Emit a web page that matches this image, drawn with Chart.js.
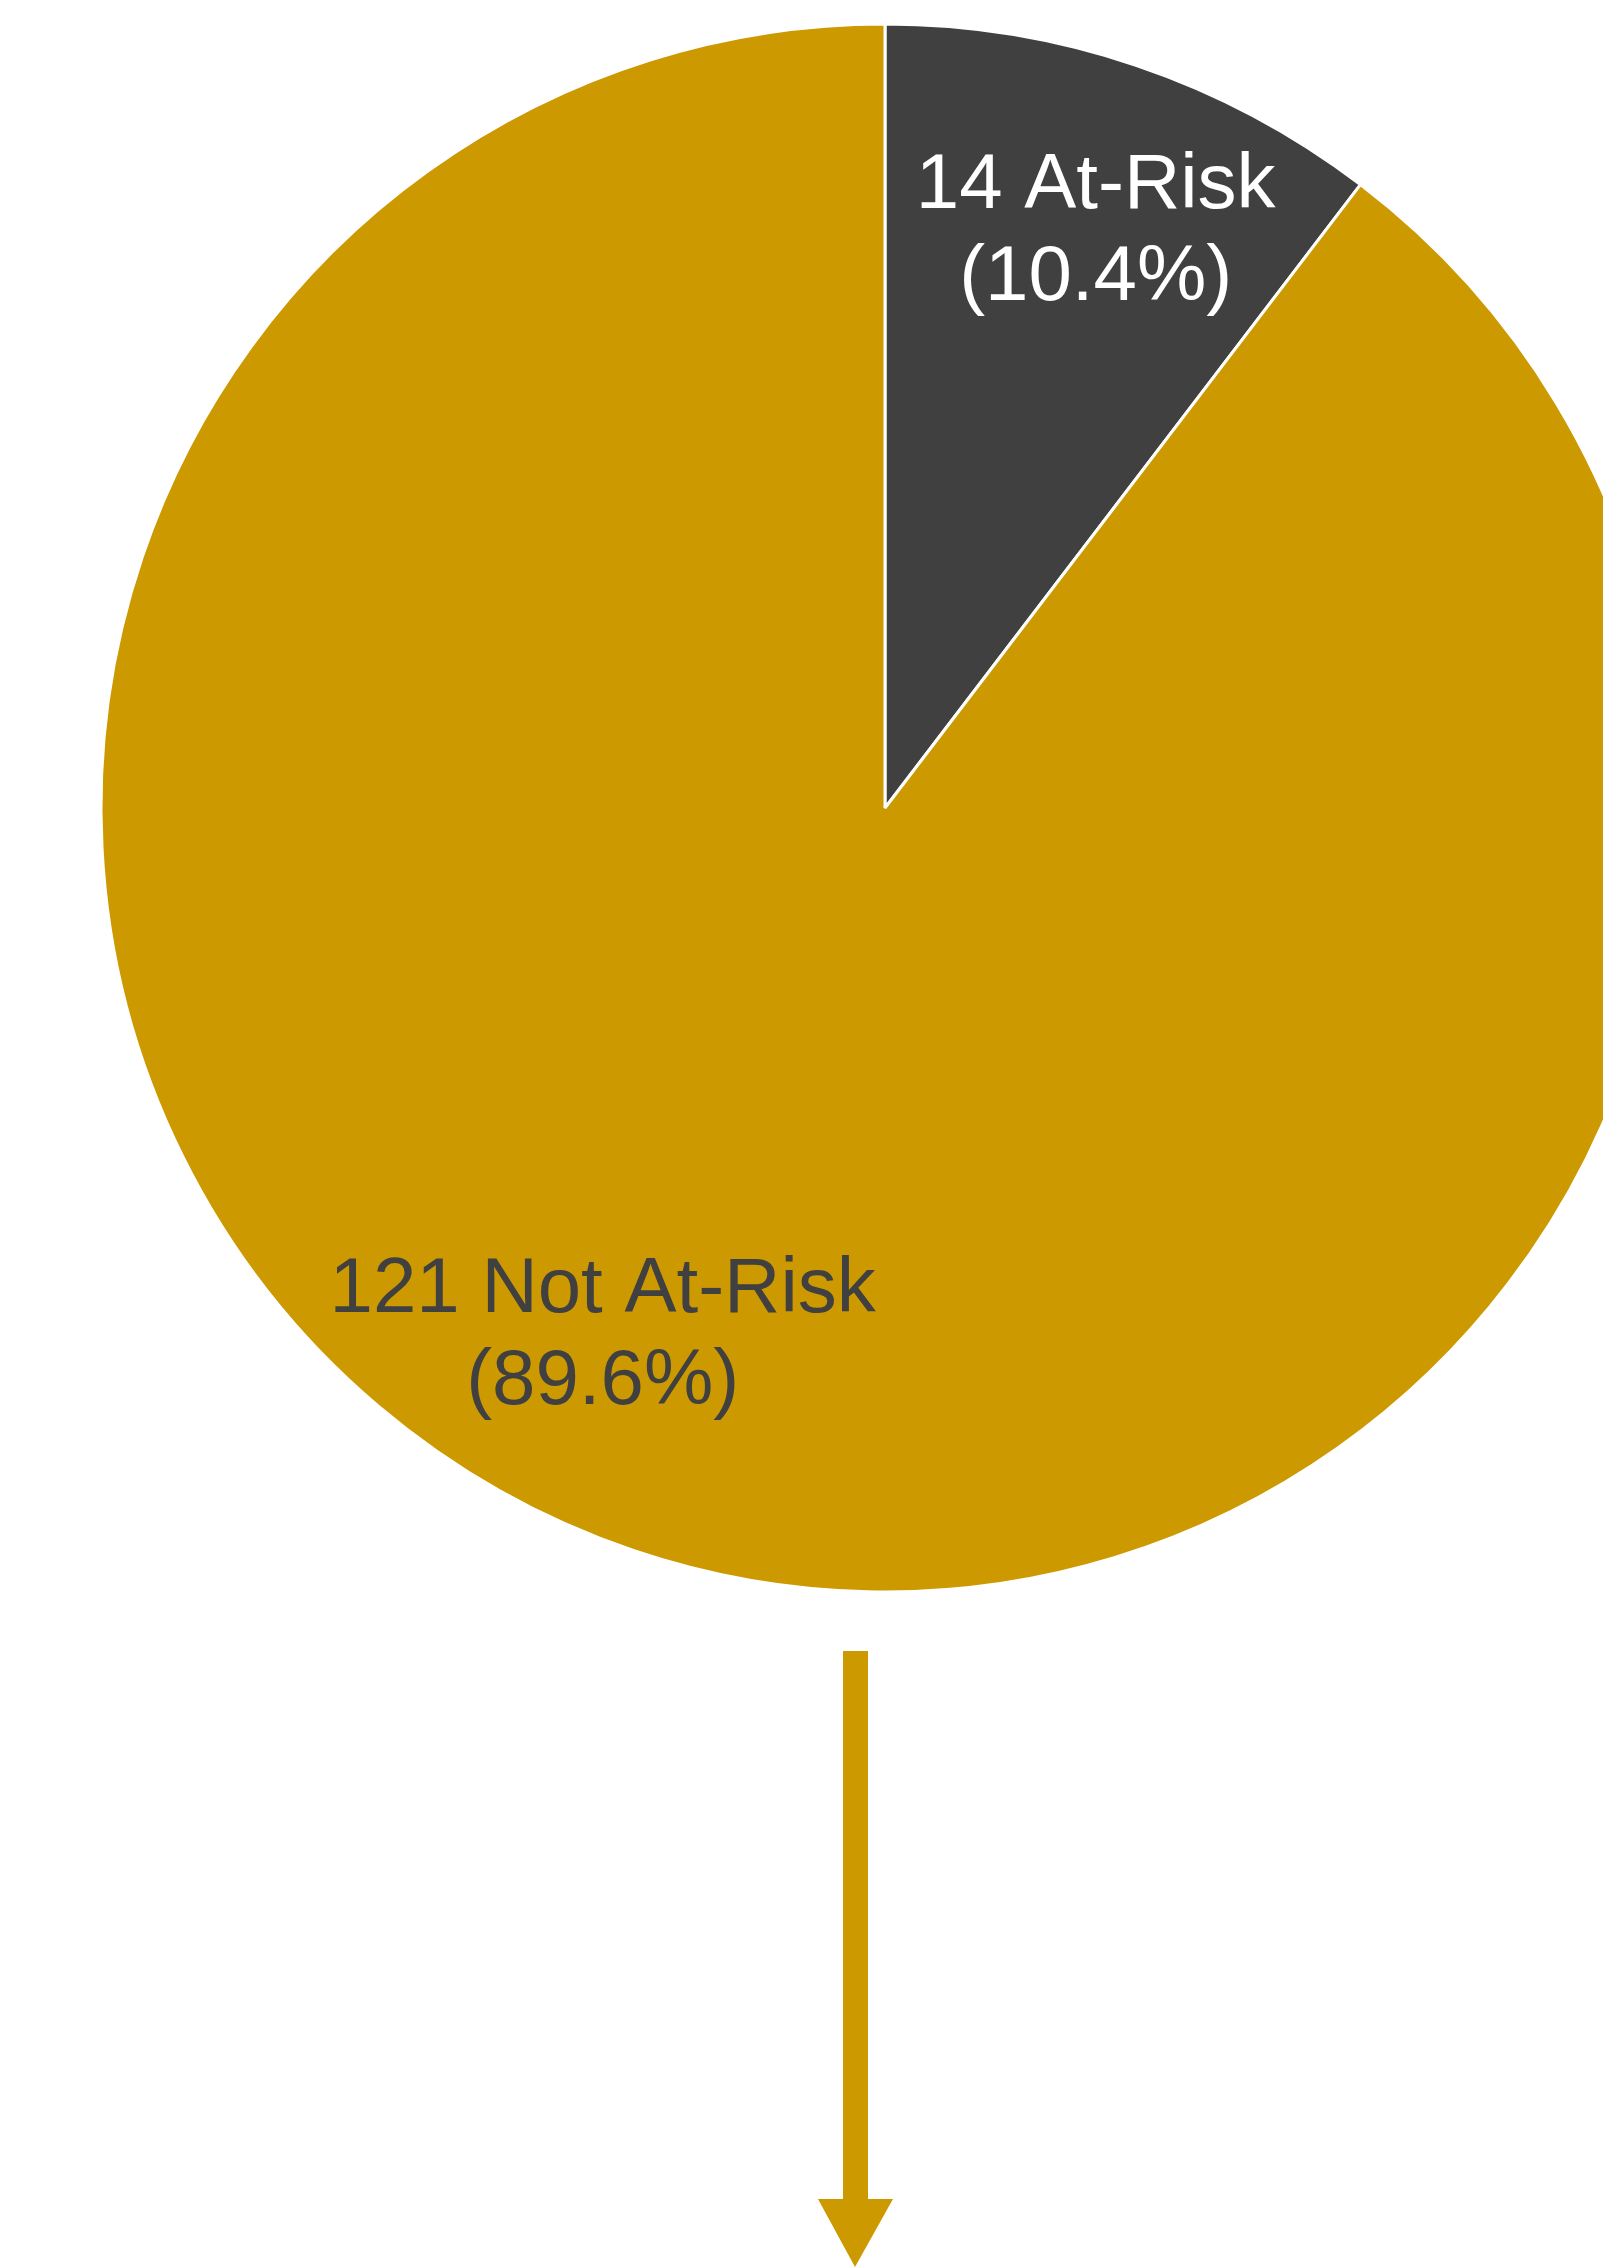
<!DOCTYPE html>
<html>
<head>
<meta charset="utf-8">
<script src="https://cdn.jsdelivr.net/npm/chart.js@4/dist/chart.umd.min.js"></script>
<style>
  html, body { margin: 0; padding: 0; background: #fff; }
  body { width: 1603px; height: 2267px; overflow: hidden; position: relative; }
  #wrap { position: absolute; left: 0; top: 0; width: 1770px; height: 1616px; }
  #arrow { position: absolute; left: 0; top: 0; }
</style>
</head>
<body>
<div id="wrap"><canvas id="pie"></canvas></div>
<svg id="arrow" width="1603" height="2267">
  <polygon points="843,1651 868,1651 868,2199 893,2199 855,2267 818,2199 843,2199" fill="#CC9900"/>
</svg>
<script>
// data
var labels = ['At-Risk', 'Not At-Risk'];
var counts = [14, 121];
var colors = ['#404040', '#CC9900'];
var textColors = ['#ffffff', '#404040'];

var total = counts.reduce(function(a, b) { return a + b; }, 0);

// where to put each label inside its slice (angle shift in radians, share of radius)
var labelPlace = [
  { shift: 0.025, r: 0.782 },
  { shift: 0.165, r: 0.764 }
];

var sliceLabels = {
  id: 'sliceLabels',
  afterDatasetsDraw: function(chart) {
    var ctx = chart.ctx;
    var meta = chart.getDatasetMeta(0);
    ctx.save();
    ctx.font = '78px "Liberation Sans", Arial, sans-serif';
    ctx.textAlign = 'center';
    ctx.textBaseline = 'middle';
    meta.data.forEach(function(arc, i) {
      var p = arc.getProps(['x', 'y', 'startAngle', 'endAngle', 'outerRadius'], true);
      var mid = (p.startAngle + p.endAngle) / 2 + labelPlace[i].shift;
      var rr = p.outerRadius * labelPlace[i].r;
      var cx = p.x + Math.cos(mid) * rr;
      var cy = p.y + Math.sin(mid) * rr;
      var pct = (counts[i] / total * 100).toFixed(1);
      ctx.fillStyle = textColors[i];
      ctx.fillText(counts[i] + ' ' + labels[i], cx, cy - 46);
      ctx.fillText('(' + pct + '%)', cx, cy + 46);
    });
    ctx.restore();
  }
};

new Chart(document.getElementById('pie'), {
  type: 'pie',
  data: {
    labels: labels,
    datasets: [{
      data: counts,
      backgroundColor: colors,
      borderColor: '#ffffff',
      borderWidth: 3
    }]
  },
  options: {
    responsive: true,
    maintainAspectRatio: false,
    animation: false,
    radius: 784,
    plugins: {
      legend: { display: false },
      tooltip: { enabled: false }
    }
  },
  plugins: [sliceLabels]
});
</script>
</body>
</html>
